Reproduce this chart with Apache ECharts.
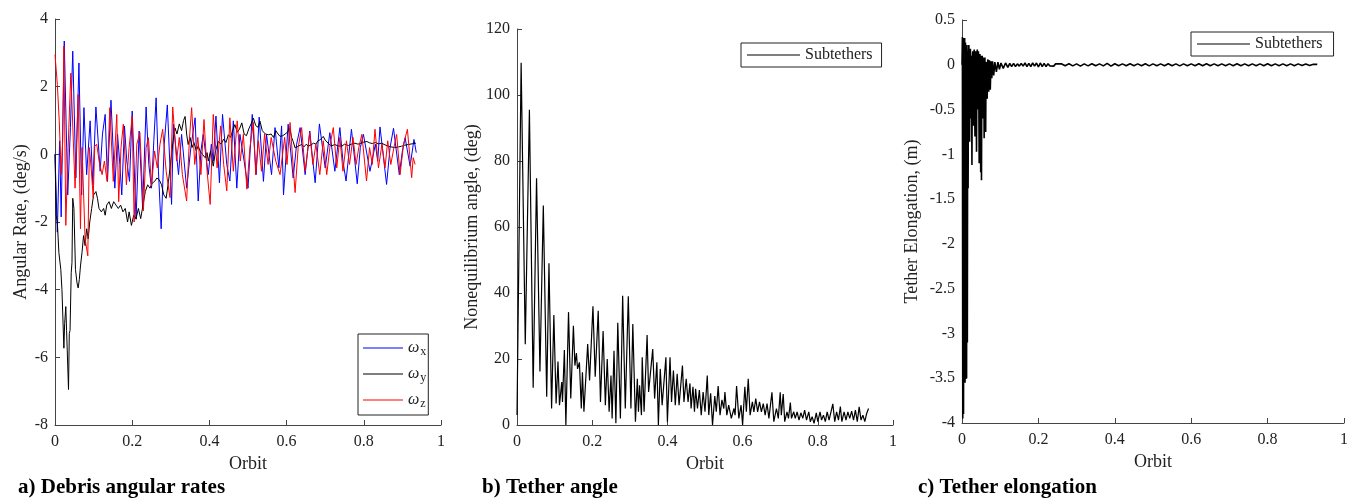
<!DOCTYPE html>
<html>
<head>
<meta charset="utf-8">
<script src="https://cdn.jsdelivr.net/npm/echarts@6/dist/echarts.min.js"></script>
<style>
html,body{margin:0;padding:0;background:#fff;}
#c{width:1351px;height:498px;}
</style>
</head>
<body>
<div id="c"></div>
<script>
// ---- Data (orbit, value) ----
const X_TICKS = [0, 0.2, 0.4, 0.6, 0.8, 1];

// a) Debris angular rates (deg/s)
const OMEGA_X = [[0,0],[0.006,-2.3],[0.012,0.4],[0.016,-1.85],[0.024,3.35],[0.033,-1.2],[0.04,0.8],[0.046,3.05],[0.054,-0.7],[0.062,2.7],[0.069,-1.2],[0.075,1.38],[0.082,-0.6],[0.091,0.99],[0.098,-0.9],[0.106,1.4],[0.117,-0.5],[0.123,0.6],[0.13,1.18],[0.136,-0.8],[0.145,1.6],[0.155,-1.0],[0.162,0.6],[0.168,-0.3],[0.173,-1.2],[0.18,0.84],[0.186,-0.2],[0.193,-0.8],[0.2,1.28],[0.21,-1.92],[0.218,0.69],[0.227,-1.58],[0.236,1.4],[0.243,-0.3],[0.25,-1.0],[0.256,0.4],[0.262,1.67],[0.268,-0.5],[0.275,-2.2],[0.283,0.3],[0.291,1.46],[0.302,-1.48],[0.307,0.89],[0.32,-0.6],[0.328,0.59],[0.341,-1.0],[0.352,0.2],[0.363,1.08],[0.371,-1.38],[0.378,0.1],[0.384,0.59],[0.397,-0.6],[0.405,0.3],[0.41,-0.2],[0.417,1.13],[0.426,-0.84],[0.434,1.18],[0.445,-0.3],[0.453,-0.79],[0.462,0.99],[0.471,-1.0],[0.479,0.59],[0.49,-0.2],[0.5,-1.0],[0.511,1.18],[0.521,-0.6],[0.529,1.1],[0.54,-0.8],[0.548,0.59],[0.561,-0.6],[0.57,0.79],[0.58,-0.4],[0.587,0.84],[0.592,-1.2],[0.604,0.89],[0.617,-0.7],[0.626,0.3],[0.635,0.79],[0.648,-0.6],[0.66,0.69],[0.667,-0.1],[0.674,-0.84],[0.685,0.9],[0.7,-0.4],[0.712,0.64],[0.725,-0.5],[0.738,0.79],[0.746,-0.2],[0.754,-0.79],[0.768,0.74],[0.783,-0.87],[0.791,0.2],[0.799,0.59],[0.816,-0.5],[0.83,0.3],[0.836,-0.2],[0.842,0.81],[0.859,-0.89],[0.868,0.2],[0.877,0.77],[0.892,-0.6],[0.9,0.1],[0.907,0.49],[0.92,-0.35],[0.93,0.44],[0.936,0.05]];

const OMEGA_Y = [[0,0],[0.003,-1.8],[0.006,-2.0],[0.01,-2.9],[0.015,-3.4],[0.018,-4.0],[0.02,-4.05],[0.023,-5.73],[0.025,-5.0],[0.028,-4.5],[0.03,-5.2],[0.035,-6.95],[0.037,-5.3],[0.039,-5.2],[0.042,-3.5],[0.044,-3.2],[0.046,-1.3],[0.049,-1.6],[0.053,-3.4],[0.057,-3.8],[0.06,-3.95],[0.063,-3.7],[0.066,-3.3],[0.07,-2.9],[0.074,-2.4],[0.078,-2.7],[0.082,-2.2],[0.086,-2.5],[0.09,-2.0],[0.095,-1.6],[0.1,-1.2],[0.106,-1.1],[0.11,-1.3],[0.114,-1.6],[0.12,-1.7],[0.126,-1.6],[0.13,-1.8],[0.134,-1.5],[0.14,-1.4],[0.146,-1.6],[0.152,-1.4],[0.158,-1.5],[0.164,-1.6],[0.17,-1.5],[0.176,-1.7],[0.182,-1.6],[0.188,-2.0],[0.192,-1.7],[0.198,-2.1],[0.204,-1.8],[0.21,-1.9],[0.216,-1.6],[0.222,-1.9],[0.228,-1.5],[0.234,-1.1],[0.24,-0.9],[0.246,-1.0],[0.252,-0.85],[0.258,-0.8],[0.264,-0.7],[0.27,-0.75],[0.276,-0.9],[0.282,-1.2],[0.288,-1.3],[0.294,-0.8],[0.3,-0.2],[0.306,0.4],[0.311,0.78],[0.316,0.6],[0.322,0.9],[0.328,0.7],[0.333,1.0],[0.337,1.12],[0.341,0.6],[0.345,0.29],[0.35,0.5],[0.355,0.2],[0.36,0.35],[0.366,0.1],[0.371,0.25],[0.376,0.09],[0.382,0.0],[0.389,-0.1],[0.394,0.05],[0.397,-0.2],[0.403,0.1],[0.41,-0.35],[0.416,0.1],[0.423,0.38],[0.43,0.3],[0.437,0.45],[0.443,0.35],[0.449,0.58],[0.455,0.5],[0.46,0.7],[0.466,0.88],[0.472,0.65],[0.478,0.75],[0.484,0.93],[0.49,0.6],[0.496,0.55],[0.502,0.75],[0.508,0.9],[0.514,1.07],[0.52,0.85],[0.526,0.8],[0.531,0.98],[0.537,0.7],[0.545,0.6],[0.553,0.58],[0.56,0.6],[0.566,0.5],[0.572,0.7],[0.578,0.6],[0.583,0.53],[0.59,0.55],[0.596,0.6],[0.602,0.65],[0.608,0.78],[0.613,0.5],[0.617,0.38],[0.622,0.19],[0.626,0.14],[0.632,0.25],[0.639,0.29],[0.645,0.22],[0.651,0.3],[0.656,0.24],[0.663,0.28],[0.67,0.33],[0.676,0.3],[0.681,0.4],[0.687,0.43],[0.695,0.53],[0.7,0.42],[0.704,0.38],[0.71,0.3],[0.716,0.25],[0.725,0.29],[0.733,0.25],[0.743,0.24],[0.75,0.3],[0.76,0.26],[0.768,0.3],[0.777,0.33],[0.785,0.3],[0.793,0.33],[0.8,0.36],[0.808,0.38],[0.815,0.34],[0.822,0.32],[0.83,0.35],[0.838,0.31],[0.846,0.33],[0.855,0.28],[0.863,0.24],[0.87,0.22],[0.88,0.2],[0.89,0.22],[0.898,0.24],[0.906,0.27],[0.915,0.29],[0.925,0.31],[0.935,0.33]];

const OMEGA_Z = [[0,2.95],[0.006,2.07],[0.011,0.99],[0.016,-0.6],[0.02,0.4],[0.023,3.2],[0.028,-2.1],[0.034,0.2],[0.041,2.4],[0.052,-1.0],[0.06,1.77],[0.066,-2.2],[0.07,0.2],[0.078,-2.5],[0.085,-3.0],[0.089,0.2],[0.094,-0.45],[0.099,-1.28],[0.103,0.24],[0.108,0.3],[0.115,-0.25],[0.122,-0.6],[0.128,-0.2],[0.135,-0.8],[0.142,1.38],[0.151,-0.8],[0.16,1.18],[0.165,-1.4],[0.171,0.2],[0.177,0.89],[0.185,-0.9],[0.192,0.2],[0.2,1.13],[0.205,-2.0],[0.212,0.3],[0.22,0.64],[0.229,-1.67],[0.236,0.2],[0.242,0.49],[0.25,-0.94],[0.258,0.1],[0.265,-0.4],[0.272,0.3],[0.279,0.74],[0.288,-0.5],[0.298,-1.28],[0.305,1.4],[0.315,-0.2],[0.322,0.5],[0.33,-0.6],[0.341,-1.38],[0.348,0.4],[0.354,1.38],[0.362,-0.3],[0.37,0.5],[0.378,-0.6],[0.386,1.03],[0.394,-0.5],[0.402,-1.48],[0.41,1.18],[0.42,-0.4],[0.429,0.84],[0.437,-0.3],[0.445,-1.08],[0.453,1.08],[0.462,-0.5],[0.472,0.99],[0.48,-0.2],[0.488,0.59],[0.497,-1.03],[0.505,0.2],[0.514,0.94],[0.52,-0.6],[0.527,0.4],[0.535,-0.5],[0.543,0.6],[0.552,-0.3],[0.56,0.5],[0.572,-0.2],[0.583,-0.6],[0.595,0.5],[0.601,-0.3],[0.609,0.94],[0.622,-1.13],[0.63,0.2],[0.639,0.79],[0.648,-0.5],[0.66,0.64],[0.668,-0.3],[0.676,0.3],[0.686,-0.6],[0.695,0.4],[0.704,-0.6],[0.713,0.3],[0.721,0.79],[0.73,-0.4],[0.738,0.5],[0.746,-0.5],[0.755,0.4],[0.763,-0.3],[0.772,0.5],[0.78,-0.3],[0.787,0.2],[0.795,0.59],[0.807,-0.79],[0.815,0.2],[0.822,-0.3],[0.829,0.74],[0.838,-0.4],[0.847,0.3],[0.855,-0.4],[0.862,0.4],[0.87,-0.3],[0.878,0.2],[0.885,0.59],[0.894,-0.6],[0.903,0.3],[0.913,0.74],[0.924,-0.69],[0.928,-0.1],[0.933,-0.3]];

// b) Tether angle (deg)
const ANGLE = [[0,3],[0.011,109.8],[0.022,24.5],[0.033,95.5],[0.043,11.3],[0.052,74.8],[0.061,16.2],[0.07,66.5],[0.079,8.6],[0.085,49],[0.092,5],[0.098,33.3],[0.104,6.5],[0.109,19.2],[0.113,6],[0.119,13],[0.121,7],[0.126,22.7],[0.13,0],[0.137,34.2],[0.143,8],[0.15,30.1],[0.154,18],[0.158,21.8],[0.161,17],[0.166,19],[0.171,5],[0.174,16],[0.178,4],[0.188,24.5],[0.193,13.5],[0.202,36],[0.208,14.6],[0.216,34.6],[0.222,7],[0.229,28.5],[0.235,6],[0.24,20],[0.245,4],[0.25,15],[0.253,2],[0.258,22.5],[0.263,0.5],[0.268,31],[0.275,2],[0.281,39.2],[0.288,5],[0.296,39],[0.303,5],[0.308,30.6],[0.315,1],[0.32,14],[0.323,4],[0.326,12],[0.331,3],[0.333,20.5],[0.338,4],[0.346,27.3],[0.35,10],[0.361,23],[0.366,8],[0.372,19],[0.376,0],[0.381,17],[0.386,6],[0.396,20.5],[0.4,1],[0.407,20.5],[0.411,7],[0.416,16.5],[0.421,6],[0.426,15.5],[0.431,6],[0.44,18],[0.444,7],[0.45,14],[0.455,7],[0.46,12.6],[0.463,5],[0.468,11.6],[0.472,4],[0.475,11],[0.48,5],[0.485,10.6],[0.49,3],[0.495,10],[0.5,4],[0.506,15],[0.51,3],[0.515,9.6],[0.52,0],[0.526,8.8],[0.53,4],[0.535,11.8],[0.54,3],[0.545,7.6],[0.55,5],[0.553,10],[0.558,3],[0.563,6],[0.57,2],[0.577,5],[0.58,3],[0.584,11.8],[0.59,2],[0.596,6],[0.6,0],[0.606,11.6],[0.61,4],[0.615,14],[0.62,3],[0.626,7],[0.63,4],[0.635,8],[0.64,4],[0.645,7],[0.65,4],[0.655,6.5],[0.66,3],[0.665,6.5],[0.67,2],[0.678,9.9],[0.683,1],[0.69,5],[0.695,2],[0.7,9.9],[0.703,3],[0.708,9.4],[0.712,1],[0.718,4],[0.722,2],[0.727,6.8],[0.73,2],[0.736,4],[0.74,2],[0.745,4],[0.75,1.5],[0.755,3.7],[0.76,2],[0.765,4.5],[0.77,1.5],[0.776,4],[0.78,1],[0.785,2.5],[0.79,0.5],[0.796,3.7],[0.8,1],[0.806,4],[0.81,1.5],[0.815,3],[0.82,1],[0.825,4],[0.83,1.5],[0.84,6.4],[0.845,1],[0.85,4],[0.855,1.5],[0.86,5.6],[0.864,1],[0.87,4],[0.875,1.5],[0.88,4],[0.885,2],[0.89,4.2],[0.895,1.5],[0.9,4.5],[0.905,1],[0.91,5.5],[0.915,1.5],[0.92,3],[0.925,1],[0.93,3.5],[0.935,5]];

// c) Tether elongation (m)
const ELONGATION = [[0,0],[0.001,0.31],[0.002,-3.95],[0.003,0.3],[0.004,-3.9],[0.005,0.28],[0.006,-3.5],[0.007,0.3],[0.008,-3.55],[0.009,0.25],[0.01,-3.2],[0.011,0.2],[0.012,-3.5],[0.013,0.22],[0.014,-3.1],[0.015,0.15],[0.016,-1.38],[0.017,0.1],[0.018,0.22],[0.019,-0.5],[0.02,-0.86],[0.021,0.05],[0.022,0.18],[0.023,-0.4],[0.024,-0.6],[0.025,0.1],[0.026,-1.12],[0.027,0.05],[0.028,0.15],[0.029,-0.3],[0.03,-0.68],[0.031,0.05],[0.032,0.17],[0.033,-0.45],[0.034,-0.8],[0.035,0.05],[0.036,0.15],[0.037,-0.3],[0.038,-0.97],[0.039,0.05],[0.04,0.17],[0.041,-0.2],[0.042,-0.5],[0.043,0.15],[0.044,-0.3],[0.045,-1.1],[0.046,0.05],[0.047,0.12],[0.048,-0.4],[0.049,-1.2],[0.05,0.1],[0.051,-1.29],[0.052,0.0],[0.053,0.1],[0.054,-0.3],[0.055,-0.6],[0.056,0.05],[0.057,0.08],[0.058,-0.82],[0.059,0.0],[0.06,0.08],[0.061,-0.4],[0.062,-0.75],[0.063,0.03],[0.064,0.05],[0.065,-0.2],[0.066,-0.38],[0.067,0.03],[0.068,0.06],[0.07,-0.3],[0.072,0.05],[0.074,-0.28],[0.076,0.04],[0.078,-0.15],[0.08,0.04],[0.083,-0.12],[0.086,0.03],[0.09,-0.08],[0.094,0.03],[0.098,-0.05],[0.102,0.02],[0.108,-0.04],[0.114,0.02],[0.12,-0.03],[0.125,0.015],[0.13,-0.02],[0.135,0.015],[0.14,-0.02],[0.145,0.01],[0.15,-0.015],[0.155,0.015],[0.16,-0.015],[0.165,0.02],[0.17,-0.02],[0.175,0.015],[0.18,-0.02],[0.185,0.02],[0.19,-0.015],[0.195,0.02],[0.2,-0.025],[0.205,0.02],[0.21,-0.02],[0.215,0.015],[0.22,-0.02],[0.225,0.012],[0.23,-0.012],[0.235,0.01],[0.24,-0.015],[0.245,0.01],[0.25,-0.01],[0.26,0.012],[0.27,-0.01],[0.28,0.012],[0.29,-0.012],[0.3,0.01],[0.31,-0.015],[0.32,0.01],[0.33,-0.012],[0.34,0.012],[0.35,-0.01],[0.36,0.01],[0.37,-0.012],[0.38,0.015],[0.39,-0.015],[0.4,0.012],[0.41,-0.01],[0.42,0.01],[0.43,-0.01],[0.44,0.012],[0.45,-0.01],[0.46,0.01],[0.47,-0.01],[0.48,0.012],[0.49,-0.012],[0.5,0.01],[0.51,-0.01],[0.52,0.01],[0.53,-0.01],[0.54,0.012],[0.55,-0.01],[0.56,0.01],[0.57,-0.012],[0.58,0.01],[0.59,-0.01],[0.6,0.01],[0.61,-0.01],[0.62,0.012],[0.63,-0.01],[0.64,0.012],[0.65,-0.01],[0.66,0.01],[0.67,-0.01],[0.68,0.01],[0.69,-0.01],[0.7,0.01],[0.71,-0.01],[0.72,0.012],[0.73,-0.01],[0.74,0.01],[0.75,-0.01],[0.76,0.01],[0.77,-0.01],[0.78,0.01],[0.79,-0.01],[0.8,0.012],[0.81,-0.01],[0.82,0.01],[0.83,-0.01],[0.84,0.01],[0.85,-0.01],[0.86,0.01],[0.87,-0.01],[0.88,0.01],[0.89,-0.008],[0.9,0.008],[0.91,-0.008],[0.92,0.006],[0.93,0.005]];

// ---- Chart ----
const FONT = 'Liberation Serif';
const AXIS_COLOR = '#444';
const TXT = '#222';

function xAxis(gridIndex) {
  return {
    type: 'value', gridIndex, min: X_TICKS[0], max: X_TICKS[X_TICKS.length - 1], interval: 0.2,
    name: 'Orbit', nameLocation: 'middle', nameGap: 30,
    nameTextStyle: { fontFamily: FONT, fontSize: 18, color: TXT },
    axisLine: { show: true, onZero: false, lineStyle: { color: AXIS_COLOR, width: 1 } },
    axisTick: { show: true, inside: true, length: 5, lineStyle: { color: AXIS_COLOR } },
    axisLabel: { fontFamily: FONT, fontSize: 16, color: TXT, margin: 9 },
    splitLine: { show: false }
  };
}
function yAxis(gridIndex, min, max, interval, name, gap) {
  return {
    type: 'value', gridIndex, min, max, interval,
    name, nameLocation: 'middle', nameGap: gap,
    nameTextStyle: { fontFamily: FONT, fontSize: 18, color: TXT },
    axisLine: { show: true, onZero: false, lineStyle: { color: AXIS_COLOR, width: 1 } },
    axisTick: { show: true, inside: true, length: 5, lineStyle: { color: AXIS_COLOR } },
    axisLabel: { fontFamily: FONT, fontSize: 16, color: TXT, margin: 7 },
    splitLine: { show: false }
  };
}
function line(name, data, xi, color, w) {
  return { name, type: 'line', data, xAxisIndex: xi, yAxisIndex: xi, symbol: 'none',
    lineStyle: { color, width: w }, itemStyle: { color }, silent: true };
}
const legendBase = {
  orient: 'vertical', borderColor: '#222', borderWidth: 1, backgroundColor: '#fff',
  icon: 'rect', itemHeight: 1.2,
  textStyle: { fontFamily: FONT, fontSize: 16, color: TXT }
};

const chart = echarts.init(document.getElementById('c'), null, { renderer: 'canvas' });
chart.setOption({
  animation: false,
  backgroundColor: '#fff',
  title: [
    { text: 'a) Debris angular rates', left: 18, top: 477, padding: 0, textStyle: { fontFamily: FONT, fontSize: 21, fontWeight: 'bold', color: '#000' } },
    { text: 'b) Tether angle', left: 482, top: 477, padding: 0, textStyle: { fontFamily: FONT, fontSize: 21, fontWeight: 'bold', color: '#000' } },
    { text: 'c) Tether elongation', left: 918, top: 477, padding: 0, textStyle: { fontFamily: FONT, fontSize: 21, fontWeight: 'bold', color: '#000' } }
  ],
  grid: [
    { left: 55, top: 19, width: 386, height: 406 },
    { left: 517, top: 29, width: 376, height: 396 },
    { left: 962, top: 20, width: 383, height: 403 }
  ],
  xAxis: [xAxis(0), xAxis(1), xAxis(2)],
  yAxis: [
    yAxis(0, -8, 4, 2, 'Angular Rate, (deg/s)', 25),
    yAxis(1, 0, 120, 20, 'Nonequilibrium angle, (deg)', 36),
    yAxis(2, -4, 0.5, 0.5, 'Tether Elongation, (m)', 41)
  ],
  legend: [
    Object.assign({}, legendBase, {
      data: ['ωx', 'ωy', 'ωz'], left: 358, top: 334, itemWidth: 40, itemGap: 8,
      padding: [6, 2, 5, 5],
      formatter: n => '{w|ω}{s|' + n.slice(1) + '}',
      textStyle: { fontFamily: FONT, fontSize: 16, color: TXT,
        rich: { w: { fontFamily: FONT, fontSize: 16, fontStyle: 'italic', color: TXT }, s: { fontFamily: FONT, fontSize: 12, color: TXT, padding: [8, 0, 0, 1] } } }
    }),
    Object.assign({}, legendBase, {
      data: ['Subtethers'], left: 741, top: 43, itemWidth: 53, padding: [4, 9, 4, 6]
    }),
    Object.assign({}, legendBase, {
      data: [{ name: 'Subtethers ' }], left: 1191, top: 32, itemWidth: 53, padding: [4, 11, 4, 6],
      formatter: n => n.trim()
    })
  ],
  series: [
    line('ωx', OMEGA_X, 0, '#0000ff', 1),
    line('ωy', OMEGA_Y, 0, '#000000', 1),
    line('ωz', OMEGA_Z, 0, '#ff0000', 1),
    line('Subtethers', ANGLE, 1, '#000000', 1.2),
    line('Subtethers ', ELONGATION, 2, '#000000', 1.6)
  ]
});
</script>
</body>
</html>
